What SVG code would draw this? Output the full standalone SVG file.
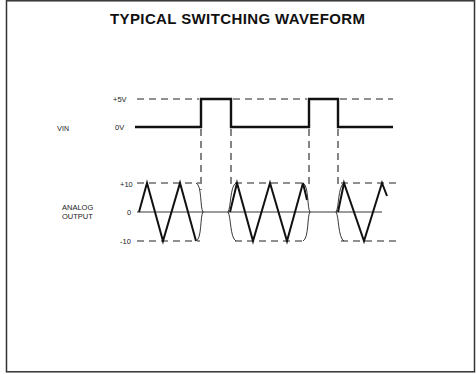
<svg xmlns="http://www.w3.org/2000/svg" width="476" height="374" viewBox="0 0 476 374">
<style>
.lbl{font-family:"Liberation Sans",Arial,sans-serif;font-size:7.5px;fill:#222}
.title{font-family:"Liberation Sans",Arial,sans-serif;font-size:15px;font-weight:bold;fill:#111}
.thick{fill:none;stroke:#111;stroke-width:2.4;stroke-linejoin:miter}
.tri{fill:none;stroke:#111;stroke-width:2;stroke-linejoin:miter}
.dash{fill:none;stroke:#222;stroke-width:1.1;stroke-dasharray:7,5}
.thin{fill:none;stroke:#222;stroke-width:0.9}
</style>
<rect x="0" y="0" width="476" height="374" fill="#fff"/>
<rect x="6.5" y="0.8" width="468" height="371" fill="none" stroke="#333" stroke-width="1.5"/>
<text class="title" x="237.5" y="23.5" text-anchor="middle" textLength="255" lengthAdjust="spacing">TYPICAL SWITCHING WAVEFORM</text>

<g id="labels">
<text class="lbl" x="57" y="131" font-size="8.5">V<tspan font-size="7">IN</tspan></text>
<text class="lbl" x="113" y="102">+5V</text>
<text class="lbl" x="115" y="130">0V</text>
<text class="lbl" x="62" y="210">ANALOG</text>
<text class="lbl" x="62" y="218.5">OUTPUT</text>
<text class="lbl" x="120" y="186.5">+10</text>
<text class="lbl" x="127" y="215">0</text>
<text class="lbl" x="120" y="244">-10</text>
</g>

<g id="connectors">
<path class="dash" d="M137,99 H199 M233,99 H307 M340,99 H393"/>
<path class="dash" d="M201,129 V190 M231,129 V186 M309,129 V188 M338,129 V186"/>
<path class="dash" d="M137,183 H200 M235,183 H306 M341,183 H397"/>
<path class="dash" d="M137,241 H200 M235,241 H306 M341,241 H397"/>
<path class="thin" d="M137,212 H382"/>
</g>

<g id="vin">
<path class="thick" d="M135,127 H201 V99 H231 V127 H309 V99 H338 V127 H393"/>
</g>

<g id="analog">
<path class="tri" d="M139,212 L147,183 L163,241 L180,183 L196,241"/>
<path class="thin" d="M196,183 C202,185 200,208 203,212 M196,241 C202,239 200,216 203,212"/>
<path class="thin" d="M236,183 C230,186 231,208 228,212 M236,241 C230,238 231,216 228,212"/>
<path class="tri" d="M230,212 L237,183 L253,241 L270,183 L287,241 L303,183 L307,200"/>
<path class="thin" d="M303,183 C309,186 307,208 310,212 M303,241 C309,238 307,216 310,212"/>
<path class="thin" d="M344,183 C338,186 339,208 336,212 M344,241 C338,238 339,216 336,212"/>
<path class="tri" d="M338,212 L344,183 L364,241 L382,183 L387,196"/>
</g>
</svg>
